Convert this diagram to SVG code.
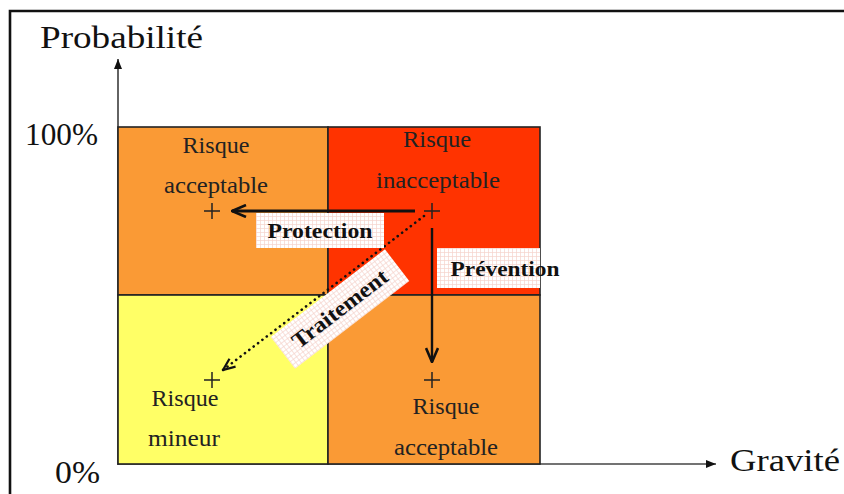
<svg xmlns="http://www.w3.org/2000/svg" width="844" height="494" viewBox="0 0 844 494">
  <style>
    .lbl { font-family: "Liberation Serif", "Times New Roman", serif; font-size: 23px; fill: #222; text-anchor: middle; }
    .axis { font-family: "Liberation Serif", "Times New Roman", serif; font-size: 32px; fill: #111; }
    .tag { font-family: "Liberation Serif", "Times New Roman", serif; font-size: 22px; font-weight: bold; fill: #111; text-anchor: middle; }
    .cell { stroke: #222; stroke-width: 1.6; }
    .plus { stroke: #222; stroke-width: 1.5; fill: none; }
    .tagbox { fill: url(#check); }
  </style>
  <defs>
    <pattern id="check" width="4" height="4" patternUnits="userSpaceOnUse">
      <rect width="4" height="4" fill="#ffffff"/>
      <path d="M0,0.5 H4 M0.5,0 V4" stroke="#f5d2cb" stroke-width="0.7"/>
    </pattern>
    <marker id="barb" viewBox="0 0 16 14" refX="15" refY="7" markerWidth="16" markerHeight="14" markerUnits="userSpaceOnUse" orient="auto">
      <path d="M1,1 L15,7 L1,13" fill="none" stroke="#111" stroke-width="2.6" stroke-linejoin="miter"/>
    </marker>
    <marker id="barbS" viewBox="0 0 14 12" refX="13" refY="6" markerWidth="14" markerHeight="12" markerUnits="userSpaceOnUse" orient="auto">
      <path d="M1,1 L13,6 L1,11" fill="none" stroke="#111" stroke-width="2.2"/>
    </marker>
    <marker id="tri" viewBox="0 0 10 8" refX="10" refY="4" markerWidth="10" markerHeight="8" markerUnits="userSpaceOnUse" orient="auto">
      <path d="M0,0 L10,4 L0,8 Z" fill="#111"/>
    </marker>
  </defs>

  <rect width="844" height="494" fill="#ffffff"/>
  <path d="M10,494 V11 H844" fill="none" stroke="#111" stroke-width="2.6"/>

  <g id="axes">
    <line x1="118" y1="465" x2="118" y2="59" stroke="#222" stroke-width="1.4" marker-end="url(#tri)"/>
    <line x1="118" y1="464" x2="716" y2="464" stroke="#444" stroke-width="1.6" marker-end="url(#tri)"/>
    <text class="axis" x="40" y="48" textLength="163" lengthAdjust="spacingAndGlyphs">Probabilité</text>
    <text class="axis" x="25" y="145" textLength="73" lengthAdjust="spacingAndGlyphs">100%</text>
    <text class="axis" x="55" y="483" textLength="45" lengthAdjust="spacingAndGlyphs">0%</text>
    <text class="axis" x="730" y="471" textLength="110" lengthAdjust="spacingAndGlyphs">Gravité</text>
  </g>

  <g id="node-top-left">
    <rect class="cell" x="118" y="127" width="210" height="168" fill="#fa9a35"/>
    <text class="lbl" x="216" y="153" textLength="67" lengthAdjust="spacingAndGlyphs">Risque</text>
    <text class="lbl" x="216" y="193" textLength="104" lengthAdjust="spacingAndGlyphs">acceptable</text>
    <path class="plus" d="M204,211 H220 M212,203 V219"/>
  </g>

  <g id="node-top-right">
    <rect class="cell" x="328" y="127" width="212" height="168" fill="#ff3300"/>
    <text class="lbl" x="437" y="147" textLength="68" lengthAdjust="spacingAndGlyphs">Risque</text>
    <text class="lbl" x="438" y="188" textLength="124" lengthAdjust="spacingAndGlyphs">inacceptable</text>
    <path class="plus" d="M424,211 H440 M432,203 V219"/>
  </g>

  <g id="node-bottom-left">
    <rect class="cell" x="118" y="295" width="210" height="169" fill="#ffff66"/>
    <text class="lbl" x="185" y="406" textLength="67" lengthAdjust="spacingAndGlyphs">Risque</text>
    <text class="lbl" x="184" y="446" textLength="72" lengthAdjust="spacingAndGlyphs">mineur</text>
    <path class="plus" d="M204,380 H220 M212,372 V388"/>
  </g>

  <g id="node-bottom-right">
    <rect class="cell" x="328" y="295" width="212" height="169" fill="#fa9a35"/>
    <text class="lbl" x="446" y="414" textLength="67" lengthAdjust="spacingAndGlyphs">Risque</text>
    <text class="lbl" x="446" y="455" textLength="104" lengthAdjust="spacingAndGlyphs">acceptable</text>
    <path class="plus" d="M424,380 H440 M432,372 V388"/>
  </g>

  <g id="connectors">
    <line x1="415" y1="211" x2="232" y2="211" stroke="#111" stroke-width="3" marker-end="url(#barb)"/>
    <line x1="432" y1="228" x2="432" y2="362" stroke="#111" stroke-width="2.4" marker-end="url(#barb)"/>
    <line x1="424" y1="216" x2="223" y2="370" stroke="#111" stroke-width="2.6" stroke-linecap="round" stroke-dasharray="0.1 5.4" marker-end="url(#barbS)"/>
  </g>

  <g id="label-protection">
    <rect class="tagbox" x="256" y="213" width="128" height="35"/>
    <text class="tag" x="320" y="238" textLength="105" lengthAdjust="spacingAndGlyphs">Protection</text>
  </g>

  <g id="label-prevention">
    <rect class="tagbox" x="437" y="248" width="103" height="40"/>
    <text class="tag" x="505" y="276" textLength="109" lengthAdjust="spacingAndGlyphs">Prévention</text>
  </g>

  <g id="label-traitement" transform="rotate(-37.5 340 309)">
    <rect class="tagbox" x="268" y="289" width="144" height="40"/>
    <text class="tag" x="340" y="316" textLength="115" lengthAdjust="spacingAndGlyphs">Traitement</text>
  </g>
</svg>
